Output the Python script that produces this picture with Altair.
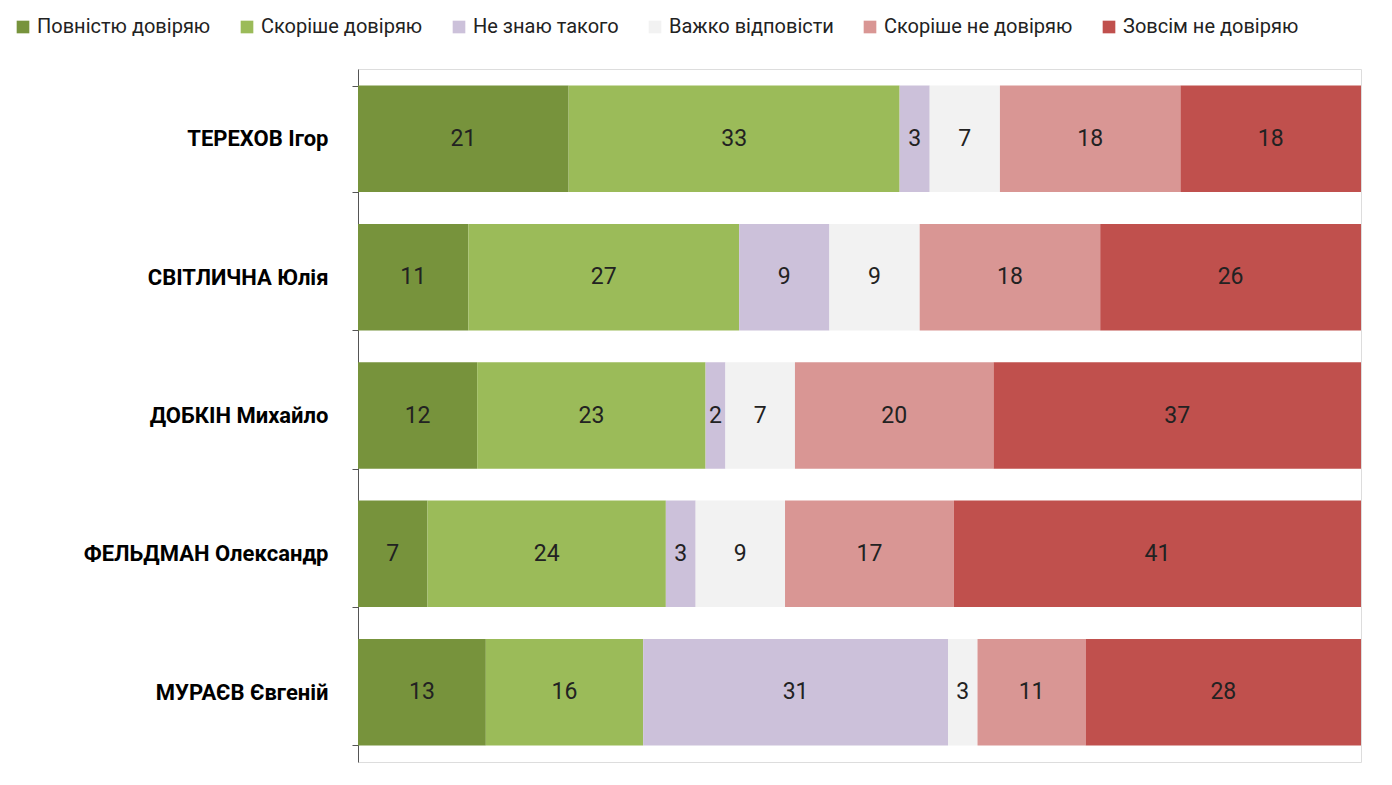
import altair as alt
import pandas as pd

people = ["ТЕРЕХОВ Ігор", "СВІТЛИЧНА Юлія", "ДОБКІН Михайло",
          "ФЕЛЬДМАН Олександр", "МУРАЄВ Євгеній"]
answers = ["Повністю довіряю", "Скоріше довіряю", "Не знаю такого",
           "Важко відповісти", "Скоріше не довіряю", "Зовсім не довіряю"]
colors = ["#77933C", "#9BBB59", "#CCC1DA", "#F2F2F2", "#D99694", "#C0504D"]
values = [
    [21, 33, 3, 7, 18, 18],
    [11, 27, 9, 9, 18, 26],
    [12, 23, 2, 7, 20, 37],
    [7, 24, 3, 9, 17, 41],
    [13, 16, 31, 3, 11, 28],
]

rows = []
for p, vals in zip(people, values):
    for i, (a, v) in enumerate(zip(answers, vals)):
        rows.append({"person": p, "answer": a, "order": i, "value": v})
df = pd.DataFrame(rows)

base = alt.Chart(df).transform_stack(
    stack="value", as_=["x0", "x1"], groupby=["person"],
    sort=[alt.SortField("order")], offset="normalize"
).transform_calculate(mid="(datum.x0 + datum.x1) / 2")

y = alt.Y("person:N", sort=people, title=None,
          scale=alt.Scale(paddingInner=0.23, paddingOuter=0.12),
          axis=alt.Axis(labelFontSize=22, labelFontWeight="bold", labelColor="#000",
                        labelPadding=24, domainColor="#555", tickColor="#555",
                        tickBand="extent", tickSize=6, labelLimit=400, grid=False))

bars = base.mark_bar().encode(
    x=alt.X("x0:Q", axis=None, scale=alt.Scale(domain=[0, 1])),
    x2="x1:Q",
    y=y,
    color=alt.Color("answer:N", sort=answers,
                    scale=alt.Scale(domain=answers, range=colors),
                    legend=alt.Legend(title=None, orient="none", legendX=-345, legendY=-52,
                                      direction="horizontal", columns=6,
                                      symbolType="square", symbolSize=160,
                                      symbolStrokeWidth=0, labelFontSize=20,
                                      labelColor="#222", columnPadding=26,
                                      labelLimit=400)),
)

labels = base.mark_text(fontSize=23, color="#222").encode(
    x="mid:Q", y=alt.Y("person:N", sort=people), text="value:Q")

chart = (bars + labels).properties(width=1003, height=693).configure_view(
    stroke=None, strokeWidth=0).configure_axis(grid=False).configure(
    font="Roboto", padding={"left": 5, "top": 9, "right": 10, "bottom": 5})

chart.save("out.html", embed_options={"renderer": "svg", "actions": False})
